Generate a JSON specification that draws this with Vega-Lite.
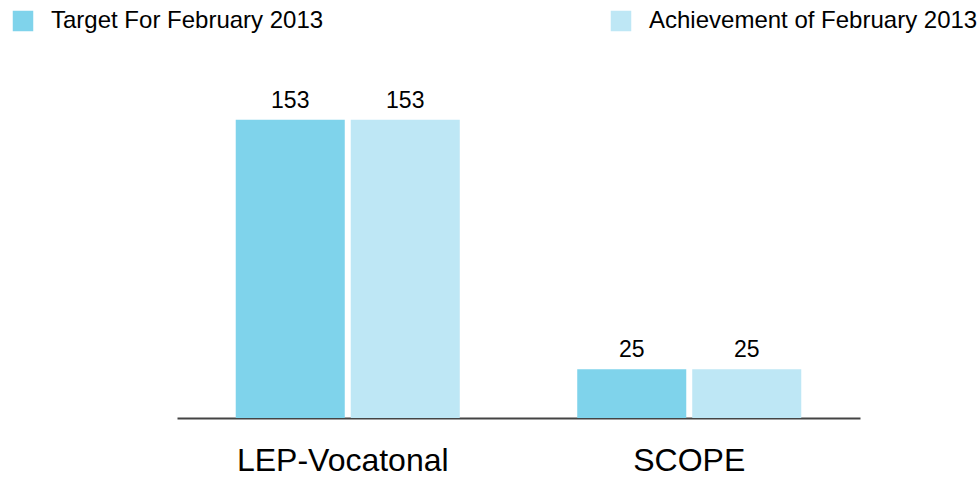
{
  "$schema": "https://vega.github.io/schema/vega-lite/v6.json",
  "autosize": "none",
  "width": 683,
  "height": 351,
  "padding": {"left": 177, "top": 67, "right": 120, "bottom": 62},
  "background": "white",
  "config": {
    "view": {"stroke": null},
    "font": "Liberation Sans"
  },
  "data": {
    "values": [
      {"program": "LEP-Vocatonal", "series": "Target For February 2013", "value": 153},
      {"program": "LEP-Vocatonal", "series": "Achievement of February 2013", "value": 153},
      {"program": "SCOPE", "series": "Target For February 2013", "value": 25},
      {"program": "SCOPE", "series": "Achievement of February 2013", "value": 25}
    ]
  },
  "encoding": {
    "x": {
      "field": "program",
      "type": "nominal",
      "sort": null,
      "scale": {"paddingInner": 0.344, "paddingOuter": 0.172},
      "axis": {
        "title": null,
        "labelAngle": 0,
        "labelFontSize": 32,
        "labelLimit": 600,
        "labelColor": "#000000",
        "labelPadding": 27,
        "labelOffset": {"condition": {"test": "datum.label == 'LEP-Vocatonal'", "value": -5}, "value": 0},
        "ticks": false,
        "domainColor": "#444444",
        "domainWidth": 2,
        "grid": false
      }
    },
    "xOffset": {
      "field": "series",
      "type": "nominal",
      "sort": ["Target For February 2013", "Achievement of February 2013"],
      "scale": {"paddingInner": 0.052, "paddingOuter": 0}
    },
    "y": {
      "field": "value",
      "type": "quantitative",
      "scale": {"domain": [0, 180]},
      "axis": null
    }
  },
  "layer": [
    {
      "mark": {"type": "bar"},
      "encoding": {
        "color": {
          "field": "series",
          "type": "nominal",
          "sort": ["Target For February 2013", "Achievement of February 2013"],
          "scale": {
            "domain": ["Target For February 2013", "Achievement of February 2013"],
            "range": ["#7FD3EB", "#BEE7F5"]
          },
          "legend": {
            "title": null,
            "orient": "none",
            "legendX": -166,
            "legendY": -58,
            "direction": "horizontal",
            "columns": 2,
            "columnPadding": 285,
            "symbolType": "square",
            "symbolSize": 420,
            "symbolStrokeWidth": 0,
            "symbolOpacity": 1,
            "labelFontSize": 24,
            "labelColor": "#000000",
            "labelOffset": 16,
            "labelLimit": 500
          }
        }
      }
    },
    {
      "mark": {"type": "text", "baseline": "alphabetic", "dy": -12, "fontSize": 23, "color": "#000000"},
      "encoding": {
        "text": {"field": "value", "type": "quantitative"}
      }
    }
  ]
}
